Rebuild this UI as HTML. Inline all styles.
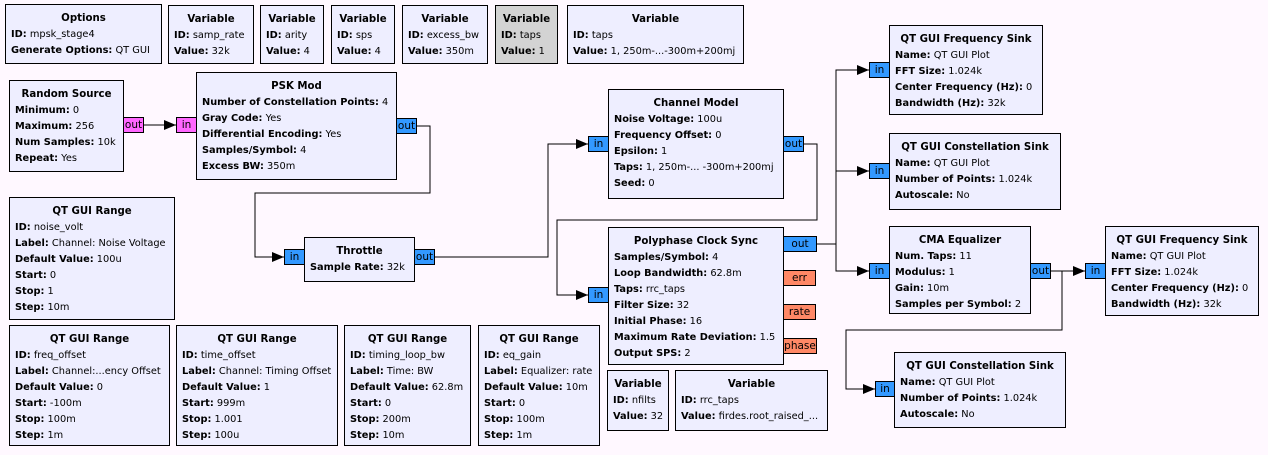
<!DOCTYPE html>
<html><head><meta charset="utf-8"><style>
body{margin:0;background:#fff;}
#c{position:relative;width:1268px;height:455px;background:#fff8ff;overflow:hidden;font-family:"DejaVu Sans","Liberation Sans",sans-serif;font-size:9.8px;color:#000;}
.b{position:absolute;box-sizing:border-box;border:1px solid #000;background:#eeeeff;padding:6px 0 0 5px;line-height:16px;white-space:nowrap;}
.b .t{font-weight:bold;text-align:center;padding-right:5px;font-size:10.2px;}
.b b{font-weight:bold;}
.g{background:#d3d3d3;}
.p{position:absolute;box-sizing:border-box;border:1px solid #000;height:16px;line-height:14px;text-align:center;font-size:10.5px;}
.bl{background:#3399ff;}.mg{background:#ff66ff;}.or{background:#ff8866;}
svg{position:absolute;left:0;top:0;}
</style></head><body><div id="c">
<svg width="1268" height="455">
<defs><marker id="a" markerWidth="12" markerHeight="10" refX="12" refY="5" orient="auto" markerUnits="userSpaceOnUse"><path d="M0,0L12,5L0,10z" fill="#000"/></marker></defs>
<g fill="none" stroke="#000" stroke-width="1">
<path d="M143,125H176" marker-end="url(#a)"/>
<path d="M416,126H430V193H255V257H284" marker-end="url(#a)"/>
<path d="M434,257H548V144H588" marker-end="url(#a)"/>
<path d="M803,144H817V220H557V295H588" marker-end="url(#a)"/>
<path d="M816,244H836V70H869" marker-end="url(#a)"/>
<path d="M836,171H869" marker-end="url(#a)"/>
<path d="M836,244V271H869" marker-end="url(#a)"/>
<path d="M1050,271H1085" marker-end="url(#a)"/>
<path d="M1062,271V330H846V389H875" marker-end="url(#a)"/>
</g></svg>

<div class="b" style="left:5px;top:4px;width:157px;height:60px"><div class="t">Options</div><b>ID:</b> mpsk_stage4<br><b>Generate Options:</b> QT GUI</div>
<div class="b" style="left:168px;top:5px;width:86px;height:59px"><div class="t">Variable</div><b>ID:</b> samp_rate<br><b>Value:</b> 32k</div>
<div class="b" style="left:260px;top:5px;width:64px;height:59px"><div class="t">Variable</div><b>ID:</b> arity<br><b>Value:</b> 4</div>
<div class="b" style="left:331px;top:5px;width:64px;height:59px"><div class="t">Variable</div><b>ID:</b> sps<br><b>Value:</b> 4</div>
<div class="b" style="left:402px;top:5px;width:86px;height:59px"><div class="t">Variable</div><b>ID:</b> excess_bw<br><b>Value:</b> 350m</div>
<div class="b g" style="left:495px;top:5px;width:63px;height:59px"><div class="t">Variable</div><b>ID:</b> taps<br><b>Value:</b> 1</div>
<div class="b" style="left:567px;top:5px;width:177px;height:59px"><div class="t">Variable</div><b>ID:</b> taps<br><b>Value:</b> 1, 250m-...-300m+200mj</div>

<div class="b" style="left:9px;top:80px;width:115px;height:92px"><div class="t">Random Source</div><b>Minimum:</b> 0<br><b>Maximum:</b> 256<br><b>Num Samples:</b> 10k<br><b>Repeat:</b> Yes</div>
<div class="p mg" style="left:123px;top:117px;width:21px">out</div>
<div class="b" style="left:196px;top:72px;width:201px;height:108px"><div class="t">PSK Mod</div><b>Number of Constellation Points:</b> 4<br><b>Gray Code:</b> Yes<br><b>Differential Encoding:</b> Yes<br><b>Samples/Symbol:</b> 4<br><b>Excess BW:</b> 350m</div>
<div class="p mg" style="left:176px;top:117px;width:21px">in</div>
<div class="p bl" style="left:396px;top:118px;width:21px">out</div>

<div class="b" style="left:608px;top:89px;width:176px;height:110px"><div class="t">Channel Model</div><b>Noise Voltage:</b> 100u<br><b>Frequency Offset:</b> 0<br><b>Epsilon:</b> 1<br><b>Taps:</b> 1, 250m-... -300m+200mj<br><b>Seed:</b> 0</div>
<div class="p bl" style="left:588px;top:136px;width:21px">in</div>
<div class="p bl" style="left:783px;top:136px;width:21px">out</div>

<div class="b" style="left:9px;top:197px;width:166px;height:123px"><div class="t">QT GUI Range</div><b>ID:</b> noise_volt<br><b>Label:</b> Channel: Noise Voltage<br><b>Default Value:</b> 100u<br><b>Start:</b> 0<br><b>Stop:</b> 1<br><b>Step:</b> 10m</div>

<div class="b" style="left:304px;top:237px;width:111px;height:45px"><div class="t">Throttle</div><b>Sample Rate:</b> 32k</div>
<div class="p bl" style="left:284px;top:249px;width:21px">in</div>
<div class="p bl" style="left:414px;top:249px;width:21px">out</div>

<div class="b" style="left:608px;top:227px;width:176px;height:138px"><div class="t">Polyphase Clock Sync</div><b>Samples/Symbol:</b> 4<br><b>Loop Bandwidth:</b> 62.8m<br><b>Taps:</b> rrc_taps<br><b>Filter Size:</b> 32<br><b>Initial Phase:</b> 16<br><b>Maximum Rate Deviation:</b> 1.5<br><b>Output SPS:</b> 2</div>
<div class="p bl" style="left:588px;top:287px;width:21px">in</div>
<div class="p bl" style="left:783px;top:236px;width:34px">out</div>
<div class="p or" style="left:783px;top:270px;width:33px">err</div>
<div class="p or" style="left:783px;top:304px;width:33px">rate</div>
<div class="p or" style="left:783px;top:338px;width:34px">phase</div>

<div class="b" style="left:889px;top:25px;width:154px;height:90px"><div class="t">QT GUI Frequency Sink</div><b>Name:</b> QT GUI Plot<br><b>FFT Size:</b> 1.024k<br><b>Center Frequency (Hz):</b> 0<br><b>Bandwidth (Hz):</b> 32k</div>
<div class="p bl" style="left:869px;top:62px;width:21px">in</div>
<div class="b" style="left:889px;top:133px;width:172px;height:77px"><div class="t">QT GUI Constellation Sink</div><b>Name:</b> QT GUI Plot<br><b>Number of Points:</b> 1.024k<br><b>Autoscale:</b> No</div>
<div class="p bl" style="left:869px;top:163px;width:21px">in</div>
<div class="b" style="left:889px;top:226px;width:142px;height:88px"><div class="t">CMA Equalizer</div><b>Num. Taps:</b> 11<br><b>Modulus:</b> 1<br><b>Gain:</b> 10m<br><b>Samples per Symbol:</b> 2</div>
<div class="p bl" style="left:869px;top:263px;width:21px">in</div>
<div class="p bl" style="left:1030px;top:263px;width:21px">out</div>
<div class="b" style="left:1105px;top:226px;width:154px;height:90px"><div class="t">QT GUI Frequency Sink</div><b>Name:</b> QT GUI Plot<br><b>FFT Size:</b> 1.024k<br><b>Center Frequency (Hz):</b> 0<br><b>Bandwidth (Hz):</b> 32k</div>
<div class="p bl" style="left:1085px;top:263px;width:21px">in</div>
<div class="b" style="left:894px;top:352px;width:172px;height:76px"><div class="t">QT GUI Constellation Sink</div><b>Name:</b> QT GUI Plot<br><b>Number of Points:</b> 1.024k<br><b>Autoscale:</b> No</div>
<div class="p bl" style="left:875px;top:381px;width:20px">in</div>

<div class="b" style="left:9px;top:325px;width:161px;height:121px"><div class="t">QT GUI Range</div><b>ID:</b> freq_offset<br><b>Label:</b> Channel:...ency Offset<br><b>Default Value:</b> 0<br><b>Start:</b> -100m<br><b>Stop:</b> 100m<br><b>Step:</b> 1m</div>
<div class="b" style="left:176px;top:325px;width:162px;height:121px"><div class="t">QT GUI Range</div><b>ID:</b> time_offset<br><b>Label:</b> Channel: Timing Offset<br><b>Default Value:</b> 1<br><b>Start:</b> 999m<br><b>Stop:</b> 1.001<br><b>Step:</b> 100u</div>
<div class="b" style="left:344px;top:325px;width:127px;height:121px"><div class="t">QT GUI Range</div><b>ID:</b> timing_loop_bw<br><b>Label:</b> Time: BW<br><b>Default Value:</b> 62.8m<br><b>Start:</b> 0<br><b>Stop:</b> 200m<br><b>Step:</b> 10m</div>
<div class="b" style="left:478px;top:325px;width:122px;height:121px"><div class="t">QT GUI Range</div><b>ID:</b> eq_gain<br><b>Label:</b> Equalizer: rate<br><b>Default Value:</b> 10m<br><b>Start:</b> 0<br><b>Stop:</b> 100m<br><b>Step:</b> 1m</div>
<div class="b" style="left:607px;top:370px;width:62px;height:61px"><div class="t">Variable</div><b>ID:</b> nfilts<br><b>Value:</b> 32</div>
<div class="b" style="left:675px;top:370px;width:153px;height:61px"><div class="t">Variable</div><b>ID:</b> rrc_taps<br><b>Value:</b> firdes.root_raised_...</div>
</div></body></html>
